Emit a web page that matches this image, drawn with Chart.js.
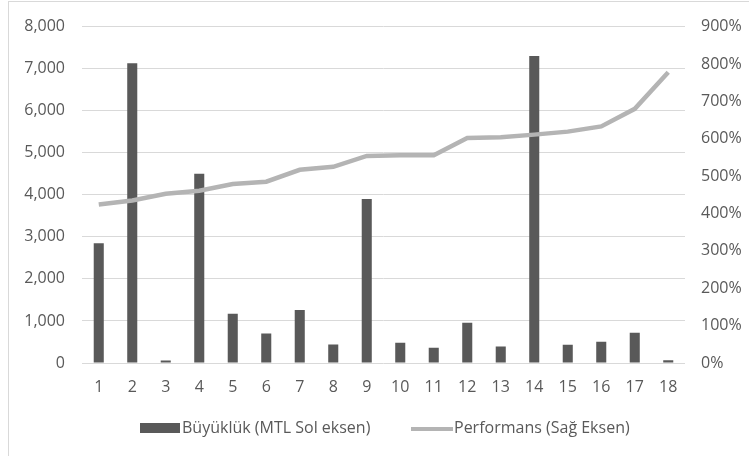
<!DOCTYPE html>
<html>
<head>
<meta charset="utf-8">
<script src="https://cdn.jsdelivr.net/npm/chart.js@4.4.1/dist/chart.umd.min.js"></script>
<style>
  html, body { margin: 0; padding: 0; background: #ffffff; }
  #wrap { position: relative; width: 749px; height: 456px; overflow: hidden; }
  #frame { position: absolute; left: 8px; top: 1px; width: 760px; height: 480px;
           border-left: 1px solid #d9d9d9; border-top: 1px solid #d9d9d9; box-sizing: border-box; }
  canvas { position: absolute; left: 0; top: 0; }
</style>
</head>
<body>
<div id="wrap">
  <div id="frame"></div>
  <canvas id="c" width="749" height="456"></canvas>
</div>
<script>
// Fund numbers on the category axis
const categories = ['1','2','3','4','5','6','7','8','9','10','11','12','13','14','15','16','17','18'];
// Size in million TL (left axis)
const sizeValues = [2850, 7130, 60, 4500, 1170, 700, 1260, 440, 3900, 480, 365, 955, 390, 7300, 435, 505, 720, 65];
// Performance in percent (right axis)
const performanceValues = [424, 435, 453, 461, 479, 485, 517, 525, 554, 556, 556, 602, 604, 611, 619, 633, 680, 778];
const seriesLabels = ['Büyüklük (MTL Sol eksen)', 'Performans (Sağ Eksen)'];
const leftTicks = [0, 1000, 2000, 3000, 4000, 5000, 6000, 7000, 8000];
const rightTicks = [0, 100, 200, 300, 400, 500, 600, 700, 800, 900];

const FONT = "'Open Sans', sans-serif";
const TEXT = '#595959';
const GRID = '#d9d9d9';

// Legend drawn under the axis: box for bars, thick stroke for the line
const bottomLegend = {
  id: 'bottomLegend',
  afterDraw(chart) {
    const ctx = chart.ctx;
    const ds = chart.data.datasets;
    const bars = ds.find(d => d.type === 'bar');
    const line = ds.find(d => d.type === 'line');
    ctx.save();
    ctx.font = '16px ' + FONT;
    ctx.textBaseline = 'middle';
    const y = 428;
    // bar series
    ctx.fillStyle = bars.backgroundColor;
    ctx.fillRect(140, y - 5, 40, 10);
    ctx.fillStyle = TEXT;
    ctx.fillText(bars.label, 182, y);
    // line series
    ctx.strokeStyle = line.borderColor;
    ctx.lineWidth = 4;
    ctx.beginPath();
    ctx.moveTo(411, y + 1);
    ctx.lineTo(453, y + 1);
    ctx.stroke();
    ctx.fillText(line.label, 454, y);
    ctx.restore();
  }
};

new Chart(document.getElementById('c'), {
  data: {
    labels: categories,
    datasets: [
      {
        type: 'bar',
        label: seriesLabels[0],
        data: sizeValues,
        yAxisID: 'yLeft',
        backgroundColor: '#595959',
        barPercentage: 0.3,
        categoryPercentage: 1,
        order: 1
      },
      {
        type: 'line',
        label: seriesLabels[1],
        data: performanceValues,
        yAxisID: 'yRight',
        borderColor: '#b4b4b4',
        borderWidth: 4.5,
        pointRadius: 0,
        tension: 0,
        order: 0
      }
    ]
  },
  plugins: [bottomLegend],
  options: {
    responsive: false,
    animation: false,
    devicePixelRatio: 1,
    layout: { padding: { left: 0, right: 0, top: 24, bottom: 53 } },
    plugins: { legend: { display: false }, tooltip: { enabled: false } },
    scales: {
      x: {
        grid: { display: false, drawTicks: false },
        border: { display: false },
        ticks: { color: TEXT, font: { family: FONT, size: 16 }, padding: 15 },
        afterFit(s) { s.height = 40; }
      },
      yLeft: {
        position: 'left',
        min: 0, max: 8000,
        afterBuildTicks(s) { s.ticks = leftTicks.map(v => ({ value: v })); },
        ticks: {
          color: TEXT, font: { family: FONT, size: 16 }, padding: 17,
          callback: v => v.toLocaleString('en-US')
        },
        grid: { color: GRID, lineWidth: 1, drawTicks: false },
        border: { display: false },
        afterFit(s) { s.width = 82; }
      },
      yRight: {
        position: 'right',
        min: 0, max: 900,
        afterBuildTicks(s) { s.ticks = rightTicks.map(v => ({ value: v })); },
        ticks: {
          color: TEXT, font: { family: FONT, size: 16 }, padding: 16,
          callback: v => v + '%'
        },
        grid: { display: false, drawTicks: false },
        border: { display: false },
        afterFit(s) { s.width = 64; }
      }
    }
  }
});
</script>
</body>
</html>
